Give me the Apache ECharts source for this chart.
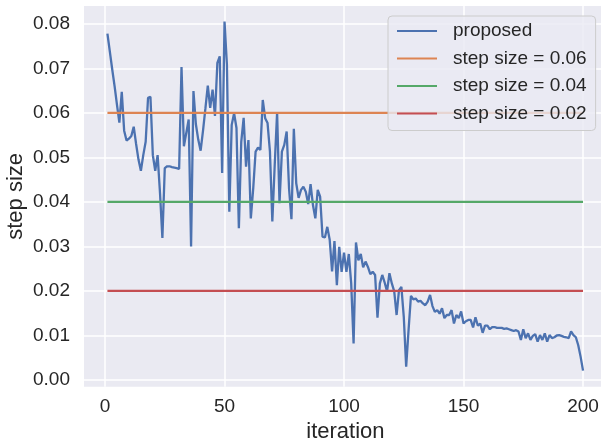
<!DOCTYPE html>
<html><head><meta charset="utf-8">
<script src="https://cdn.jsdelivr.net/npm/echarts@6/dist/echarts.min.js"></script>
<style>html,body{margin:0;padding:0;background:#fff}#c{width:601px;height:446px}</style>
</head><body><div id="c"></div>
<script>
const proposed = [
0.0778,0.0738,0.0698,0.0660,0.0618,0.0578,0.0647,0.0560,0.0538,0.0542,
0.0548,0.0569,0.0530,0.0495,0.0470,0.0505,0.0535,0.0634,0.0636,0.0505,
0.0470,0.0505,0.0420,0.0319,0.0476,0.0480,0.0480,0.0478,0.0477,0.0476,
0.0474,0.0703,0.0525,0.0555,0.0585,0.0300,0.0649,0.0575,0.0540,0.0515,
0.0560,0.0610,0.0661,0.0611,0.0652,0.0593,0.0712,0.0727,0.0465,0.0805,
0.0708,0.0378,0.0573,0.0599,0.0566,0.0341,0.0535,0.0589,0.0479,0.0539,
0.0363,0.0430,0.0513,0.0522,0.0517,0.0629,0.0588,0.0577,0.0513,0.0356,
0.0483,0.0601,0.0397,0.0513,0.0528,0.0558,0.0430,0.0361,0.0564,0.0442,
0.0409,0.0427,0.0434,0.0423,0.0395,0.0440,0.0393,0.0363,0.0427,0.0412,
0.0322,0.0320,0.0344,0.0315,0.0244,0.0312,0.0213,0.0299,0.0243,0.0286,
0.0243,0.0283,0.0217,0.0082,0.0309,0.0269,0.0283,0.0253,0.0266,0.0254,
0.0238,0.0243,0.0236,0.0140,0.0217,0.0236,0.0219,0.0199,0.0240,0.0217,
0.0199,0.0146,0.0202,0.0209,0.0142,0.0030,0.0112,0.0189,0.0181,0.0183,
0.0176,0.0178,0.0172,0.0168,0.0176,0.0191,0.0166,0.0153,0.0157,0.0149,
0.0161,0.0139,0.0146,0.0146,0.0157,0.0127,0.0146,0.0139,0.0154,0.0127,
0.0132,0.0135,0.0135,0.0118,0.0141,0.0122,0.0127,0.0106,0.0122,0.0122,
0.0114,0.0119,0.0119,0.0117,0.0117,0.0117,0.0115,0.0116,0.0114,0.0112,
0.0110,0.0112,0.0109,0.0090,0.0114,0.0094,0.0105,0.0090,0.0099,0.0103,
0.0086,0.0101,0.0090,0.0105,0.0086,0.0101,0.0094,0.0096,0.0100,0.0101,
0.0099,0.0097,0.0096,0.0094,0.0109,0.0101,0.0096,0.0078,0.0052,0.0021
];
const firstIter = 1;
const lastIter = 200;
const stepSizes = [0.06, 0.04, 0.02];
const seriesNames = ['proposed', 'step size = 0.06', 'step size = 0.04', 'step size = 0.02'];
const xTicks = [0, 50, 100, 150, 200];
const yTicks = [0, 0.01, 0.02, 0.03, 0.04, 0.05, 0.06, 0.07, 0.08];
const colors = ['#4c72b0', '#dd8452', '#55a868', '#c44e52'];

const FONT = '"Liberation Sans", Arial, sans-serif';
const TXT = '#262626';
const chart = echarts.init(document.getElementById('c'), null, {renderer: 'canvas'});

const propData = proposed.map((v, i) => [firstIter + i, v]);
const series = [{
  name: seriesNames[0], type: 'line', data: propData, showSymbol: false, symbol: 'none',
  lineStyle: {color: colors[0], width: 2.3}, itemStyle: {color: colors[0]}, animation: false
}];
stepSizes.forEach((s, k) => {
  series.push({
    name: seriesNames[k + 1], type: 'line', data: [[firstIter, s], [lastIter, s]],
    showSymbol: false, symbol: 'none',
    lineStyle: {color: colors[k + 1], width: 2.3}, itemStyle: {color: colors[k + 1]}, animation: false
  });
});

chart.setOption({
  animation: false,
  backgroundColor: '#ffffff',
  grid: {left: 84, right: -5.8, top: 6, bottom: 59.3, show: true, backgroundColor: '#eaeaf2', borderWidth: 0,
    containLabel: false, outerBoundsMode: 'none'},
  xAxis: {
    type: 'value', min: -8.8, max: 209.95,
    axisLine: {show: false}, axisTick: {show: false, customValues: xTicks},
    axisLabel: {customValues: xTicks, color: TXT, fontFamily: FONT, fontSize: 19, margin: 11},
    splitLine: {show: true, lineStyle: {color: '#ffffff', width: 1.5}},
    name: 'iteration', nameLocation: 'middle', nameGap: 34, nameMoveOverlap: false,
    nameTextStyle: {color: TXT, fontFamily: FONT, fontSize: 22}
  },
  yAxis: {
    type: 'value', min: -0.0015, max: 0.0840,
    axisLine: {show: false}, axisTick: {show: false, customValues: yTicks},
    axisLabel: {customValues: yTicks, color: TXT, fontFamily: FONT, fontSize: 19, margin: 14,
      formatter: v => v.toFixed(2)},
    splitLine: {show: true, lineStyle: {color: '#ffffff', width: 1.5}},
    name: 'step size', nameLocation: 'middle', nameGap: 57, nameMoveOverlap: false,
    nameTextStyle: {color: TXT, fontFamily: FONT, fontSize: 22}
  },
  legend: {
    data: seriesNames, orient: 'vertical', left: 388, top: 16,
    icon: 'rect', itemWidth: 40, itemHeight: 2, itemGap: 7.5,
    padding: [5, 9, 7, 9],
    backgroundColor: 'rgba(234,234,242,0.8)', borderColor: '#cccccc', borderWidth: 1, borderRadius: 4,
    textStyle: {color: TXT, fontFamily: FONT, fontSize: 19, lineHeight: 20, padding: [0, 0, 0, 11]}
  },
  series: series
});
</script></body></html>
